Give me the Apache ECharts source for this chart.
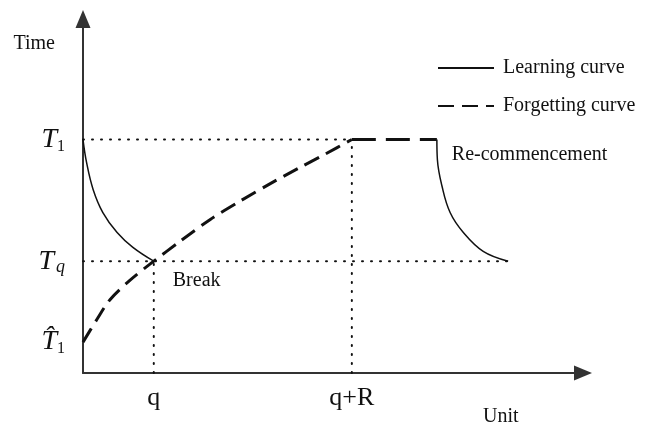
<!DOCTYPE html>
<html>
<head>
<meta charset="utf-8">
<script src="https://cdn.jsdelivr.net/npm/echarts@6/dist/echarts.min.js"></script>
<style>
html, body { margin: 0; padding: 0; background: #fff; }
#chart { width: 656px; height: 427px; }
</style>
</head>
<body>
<div id="chart"></div>
<script>
// tick positions and labels
var xTicks = [13.9, 52.8];
var xTickLabels = ['q', 'q+R'];
var yTicks = [64.3, 30.8, 8.5];
var yTickLabels = ['{t|T}{s|1}', '{t|T}{q|q}', '{t|T\u0302}{s|1}'];

// curves
var learning = [[0, 64.3], [0.7, 58], [2, 50.5], [3.9, 44.2], [6.7, 38.7], [9.8, 34.6], [13.9, 30.8]];
var forgetting = [[0, 8.5], [2.75, 14.8], [5.3, 20.2], [9.2, 25.5], [13.9, 30.8], [19.1, 36.3], [25, 42.3],
    [30.8, 47.3], [36.7, 52.1], [42.6, 56.6], [47.7, 60.4], [52.8, 64.3]];
var plateau = [[52.8, 64.3], [69.5, 64.3]];
var recommence = [[69.5, 64.3], [69.6, 58.8], [70.5, 51.5], [72.1, 44.2], [74.7, 38.7], [78.6, 33.5], [83.5, 30.8]];

var font = 'Liberation Serif';
var dotted = { color: '#111', width: 2, type: [1, 8], cap: 'round' };

function guide(points) {
    return {
        type: 'line', data: points, symbol: 'none', silent: true,
        lineStyle: dotted, z: 1
    };
}

var chart = echarts.init(document.getElementById('chart'));
var option = {
    backgroundColor: '#fff',
    animation: false,
    grid: { left: 83, right: 73, top: 19, bottom: 53 },
    legend: {
        orient: 'vertical',
        left: 437, top: 58, padding: 0,
        itemWidth: 56, itemHeight: 20, itemGap: 18,
        itemStyle: { opacity: 0 },
        textStyle: { fontFamily: font, fontSize: 20, color: '#111', padding: [0, 0, 0, 4] },
        data: ['Learning curve', 'Forgetting curve']
    },
    xAxis: {
        type: 'value', min: 0, max: 98.2,
        name: 'Unit', nameLocation: 'end', nameGap: -100,
        nameTextStyle: { fontFamily: font, fontSize: 20, color: '#111', verticalAlign: 'top', padding: [34, 0, 0, 0] },
        splitLine: { show: false },
        axisTick: { show: false },
        axisLine: { lineStyle: { color: '#333', width: 2 }, symbol: ['none', 'triangle'], symbolSize: [15, 18] },
        axisLabel: {
            customValues: xTicks, margin: 12,
            fontFamily: font, fontSize: 26, color: '#111',
            formatter: function (v) { return xTickLabels[xTicks.indexOf(v)]; }
        }
    },
    yAxis: {
        type: 'value', min: 0, max: 97.5,
        name: 'Time', nameLocation: 'end', nameGap: -25,
        nameTextStyle: { fontFamily: font, fontSize: 20, color: '#111', align: 'right', verticalAlign: 'middle', padding: [0, 28, 0, 0] },
        splitLine: { show: false },
        axisTick: { show: false },
        axisLine: { lineStyle: { color: '#333', width: 2 }, symbol: ['none', 'triangle'], symbolSize: [15, 18] },
        axisLabel: {
            customValues: yTicks, margin: 18,
            formatter: function (v) { return yTickLabels[yTicks.indexOf(v)]; },
            rich: {
                t: { fontFamily: font, fontStyle: 'italic', fontSize: 28, color: '#111', lineHeight: 30 },
                s: { fontFamily: font, fontSize: 16, color: '#111', lineHeight: 30, verticalAlign: 'bottom', padding: [14, 0, 0, 0] },
                q: { fontFamily: font, fontStyle: 'italic', fontSize: 18, color: '#111', lineHeight: 30, verticalAlign: 'bottom', padding: [22, 0, 0, 2] }
            }
        }
    },
    series: [
        guide([[0, yTicks[0]], [xTicks[1], yTicks[0]]]),
        guide([[0, yTicks[1]], [recommence[recommence.length - 1][0], yTicks[1]]]),
        guide([[xTicks[0], 0], [xTicks[0], yTicks[1]]]),
        guide([[xTicks[1], 0], [xTicks[1], yTicks[0]]]),
        {
            name: 'Learning curve', type: 'line', data: learning, symbol: 'none', smooth: 0.4, z: 3,
            lineStyle: { color: '#111', width: 1.5 }, itemStyle: { color: '#111' }
        },
        {
            name: 'Forgetting curve', type: 'line', data: forgetting, symbol: 'none', smooth: 0.3, z: 3,
            lineStyle: { color: '#111', width: 3, type: [16, 8] }, itemStyle: { color: '#111' }
        },
        {
            name: 'Forgetting curve', type: 'line', data: plateau, symbol: 'none', z: 3,
            lineStyle: { color: '#111', width: 3, type: [24, 10] }, itemStyle: { color: '#111' }
        },
        {
            name: 'Learning curve', type: 'line', data: recommence, symbol: 'none', smooth: 0.4, z: 3,
            lineStyle: { color: '#111', width: 1.5 }, itemStyle: { color: '#111' }
        }
    ]
};
chart.setOption(option);

// annotations anchored to data points
var breakPt = chart.convertToPixel({ gridIndex: 0 }, learning[learning.length - 1]);
var recPt = chart.convertToPixel({ gridIndex: 0 }, recommence[0]);
chart.setOption({
    graphic: [
        { type: 'text', x: breakPt[0] + 19, y: breakPt[1] + 20,
          style: { text: 'Break', fontFamily: font, fontSize: 20, fill: '#111', verticalAlign: 'middle' } },
        { type: 'text', x: recPt[0] + 15, y: recPt[1] + 15,
          style: { text: 'Re-commencement', fontFamily: font, fontSize: 20, fill: '#111', verticalAlign: 'middle' } }
    ]
});
window.addEventListener('resize', function () { chart.resize(); });
</script>
</body>
</html>
